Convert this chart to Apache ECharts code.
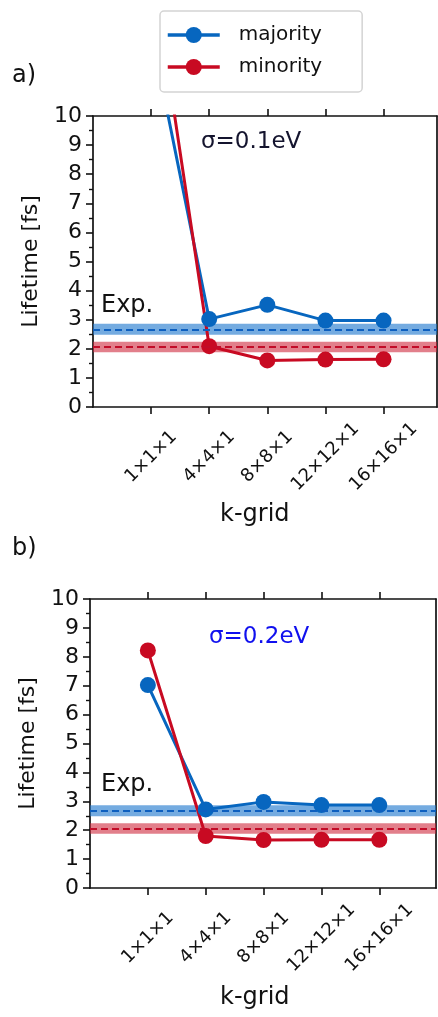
<!DOCTYPE html>
<html>
<head>
<meta charset="utf-8">
<script src="https://cdn.jsdelivr.net/npm/echarts@6/dist/echarts.min.js"></script>
<style>
html,body{margin:0;padding:0;background:#fff;}
#chart{width:438px;height:1017px;}
</style>
</head>
<body>
<div id="chart"></div>
<script>
// ---- data ----
var categories = ['1×1×1', '4×4×1', '8×8×1', '12×12×1', '16×16×1'];
var xPositions = [1, 2, 3, 4, 5];
var majorityA = [12.9, 3.02, 3.51, 2.97, 2.97];
var minorityA = [15.4, 2.09, 1.6, 1.63, 1.64];
var majorityB = [7.02, 2.72, 2.98, 2.87, 2.87];
var minorityB = [8.22, 1.8, 1.66, 1.67, 1.67];
var expMajority = 2.67, expMajorityBand = [2.48, 2.86];
var expMinority = 2.06, expMinorityBand = [1.88, 2.24];
var yTicks = [0, 1, 2, 3, 4, 5, 6, 7, 8, 9, 10];
var panelLabels = ['a)', 'b)'];
var sigmaLabels = ['σ=0.1eV', 'σ=0.2eV'];

var BLUE = '#0766bf', RED = '#c80a22';
var FONT = 'DejaVu Sans';

function pairs(vals) { return xPositions.map(function (x, i) { return [x, vals[i]]; }); }

var chart = echarts.init(document.getElementById('chart'), null, { renderer: 'canvas' });

var grids = [
  { left: 93, top: 116, width: 344, height: 291 },
  { left: 90, top: 599, width: 346, height: 289 }
];
var xMax = [5.92, 5.98];

var xAxes = [], yAxes = [], series = [];
[0, 1].forEach(function (g) {
  xAxes.push({
    type: 'value', gridIndex: g, min: 0, max: xMax[g], position: 'bottom',
    splitLine: { show: false },
    axisLine: { show: true, onZero: false, lineStyle: { color: '#111', width: 1.7 } },
    axisTick: { show: true, inside: false, length: 7, customValues: xPositions, lineStyle: { color: '#111', width: 1.6 } },
    axisLabel: {
      show: true, customValues: xPositions, rotate: 45, align: 'center', verticalAlign: 'middle', margin: 50,
      fontFamily: FONT, fontSize: 18, color: '#111',
      formatter: function (v) { var i = xPositions.indexOf(v); return i >= 0 ? categories[i] : ''; }
    }
  });
  xAxes.push({
    type: 'value', gridIndex: g, min: 0, max: xMax[g], position: 'top',
    splitLine: { show: false },
    axisLine: { show: true, onZero: false, lineStyle: { color: '#111', width: 1.7 } },
    axisTick: { show: true, inside: false, length: 7, customValues: xPositions, lineStyle: { color: '#111', width: 1.6 } },
    axisLabel: { show: false }
  });
  yAxes.push({
    type: 'value', gridIndex: g, min: 0, max: 10, interval: 1, position: 'left',
    name: 'Lifetime [fs]', nameLocation: 'middle', nameGap: 51,
    nameTextStyle: { fontFamily: FONT, fontSize: 22, color: '#111' },
    splitLine: { show: false },
    axisLine: { show: true, onZero: false, lineStyle: { color: '#111', width: 1.7 } },
    axisTick: { show: true, inside: false, length: 7, lineStyle: { color: '#111', width: 1.6 } },
    minorTick: { show: true, splitNumber: 2, length: 4, lineStyle: { color: '#111', width: 1.4 } },
    axisLabel: { show: true, margin: 11, fontFamily: FONT, fontSize: 22, color: '#111' }
  });
  yAxes.push({
    type: 'value', gridIndex: g, min: 0, max: 10, interval: 1, position: 'right',
    splitLine: { show: false },
    axisLine: { show: true, onZero: false, lineStyle: { color: '#111', width: 1.7 } },
    axisTick: { show: false }, axisLabel: { show: false }
  });
});

[0, 1].forEach(function (g) {
  var xi = g * 2, yi = g * 2;
  series.push({
    type: 'line', name: 'exp' + g, xAxisIndex: xi, yAxisIndex: yi, data: [], z: 1,
    silent: true,
    markArea: {
      silent: true,
      data: [
        [{ yAxis: expMajorityBand[0], itemStyle: { color: 'rgba(30,120,205,0.62)' } }, { yAxis: expMajorityBand[1] }],
        [{ yAxis: expMinorityBand[0], itemStyle: { color: 'rgba(205,35,55,0.58)' } }, { yAxis: expMinorityBand[1] }]
      ]
    },
    markLine: {
      silent: true, symbol: 'none', label: { show: false },
      data: [
        { yAxis: expMajority, lineStyle: { color: '#0d5fbf', type: [7, 4], width: 1.8 } },
        { yAxis: expMinority, lineStyle: { color: '#c20c28', type: [7, 4], width: 1.8 } }
      ]
    }
  });
  var maj = g === 0 ? majorityA : majorityB;
  var min = g === 0 ? minorityA : minorityB;
  series.push({
    type: 'line', name: 'majority', xAxisIndex: xi, yAxisIndex: yi, data: pairs(maj), z: 3,
    clip: true, symbol: 'circle', symbolSize: 16, color: BLUE,
    lineStyle: { color: BLUE, width: 3 }, itemStyle: { color: BLUE }
  });
  series.push({
    type: 'line', name: 'minority', xAxisIndex: xi, yAxisIndex: yi, data: pairs(min), z: 3,
    clip: true, symbol: 'circle', symbolSize: 16, color: RED,
    lineStyle: { color: RED, width: 3 }, itemStyle: { color: RED }
  });
});

var graphics = [
  { type: 'text', left: 12, top: 64, style: { text: panelLabels[0], font: '24px "DejaVu Sans"', fill: '#111' } },
  { type: 'text', left: 12, top: 537, style: { text: panelLabels[1], font: '24px "DejaVu Sans"', fill: '#111' } },
  { type: 'text', left: 201, top: 131, style: { text: sigmaLabels[0], font: '23px "DejaVu Sans"', fill: '#14142e' } },
  { type: 'text', left: 209, top: 626, style: { text: sigmaLabels[1], font: '23px "DejaVu Sans"', fill: '#1010ee' } },
  { type: 'text', left: 101, top: 294, style: { text: 'Exp.', font: '24px "DejaVu Sans"', fill: '#111' } },
  { type: 'text', left: 101, top: 773, style: { text: 'Exp.', font: '24px "DejaVu Sans"', fill: '#111' } },
  { type: 'text', left: 220, top: 503, style: { text: 'k-grid', font: '24px "DejaVu Sans"', fill: '#111' } },
  { type: 'text', left: 220, top: 986, style: { text: 'k-grid', font: '24px "DejaVu Sans"', fill: '#111' } }
];

chart.setOption({
  animation: false,
  backgroundColor: '#fff',
  grid: grids,
  xAxis: xAxes,
  yAxis: yAxes,
  legend: {
    data: ['majority', 'minority'],
    orient: 'vertical', left: 160, top: 11,
    itemWidth: 52, itemHeight: 20, itemGap: 12,
    padding: [14, 40, 15, 6],
    borderColor: '#d4d4d4', borderWidth: 1.5, borderRadius: 4,
    lineStyle: { width: 3.5 },
    textStyle: { fontFamily: FONT, fontSize: 20, color: '#111', padding: [0, 0, 0, 14] }
  },
  graphic: graphics,
  series: series
});
</script>
</body>
</html>
